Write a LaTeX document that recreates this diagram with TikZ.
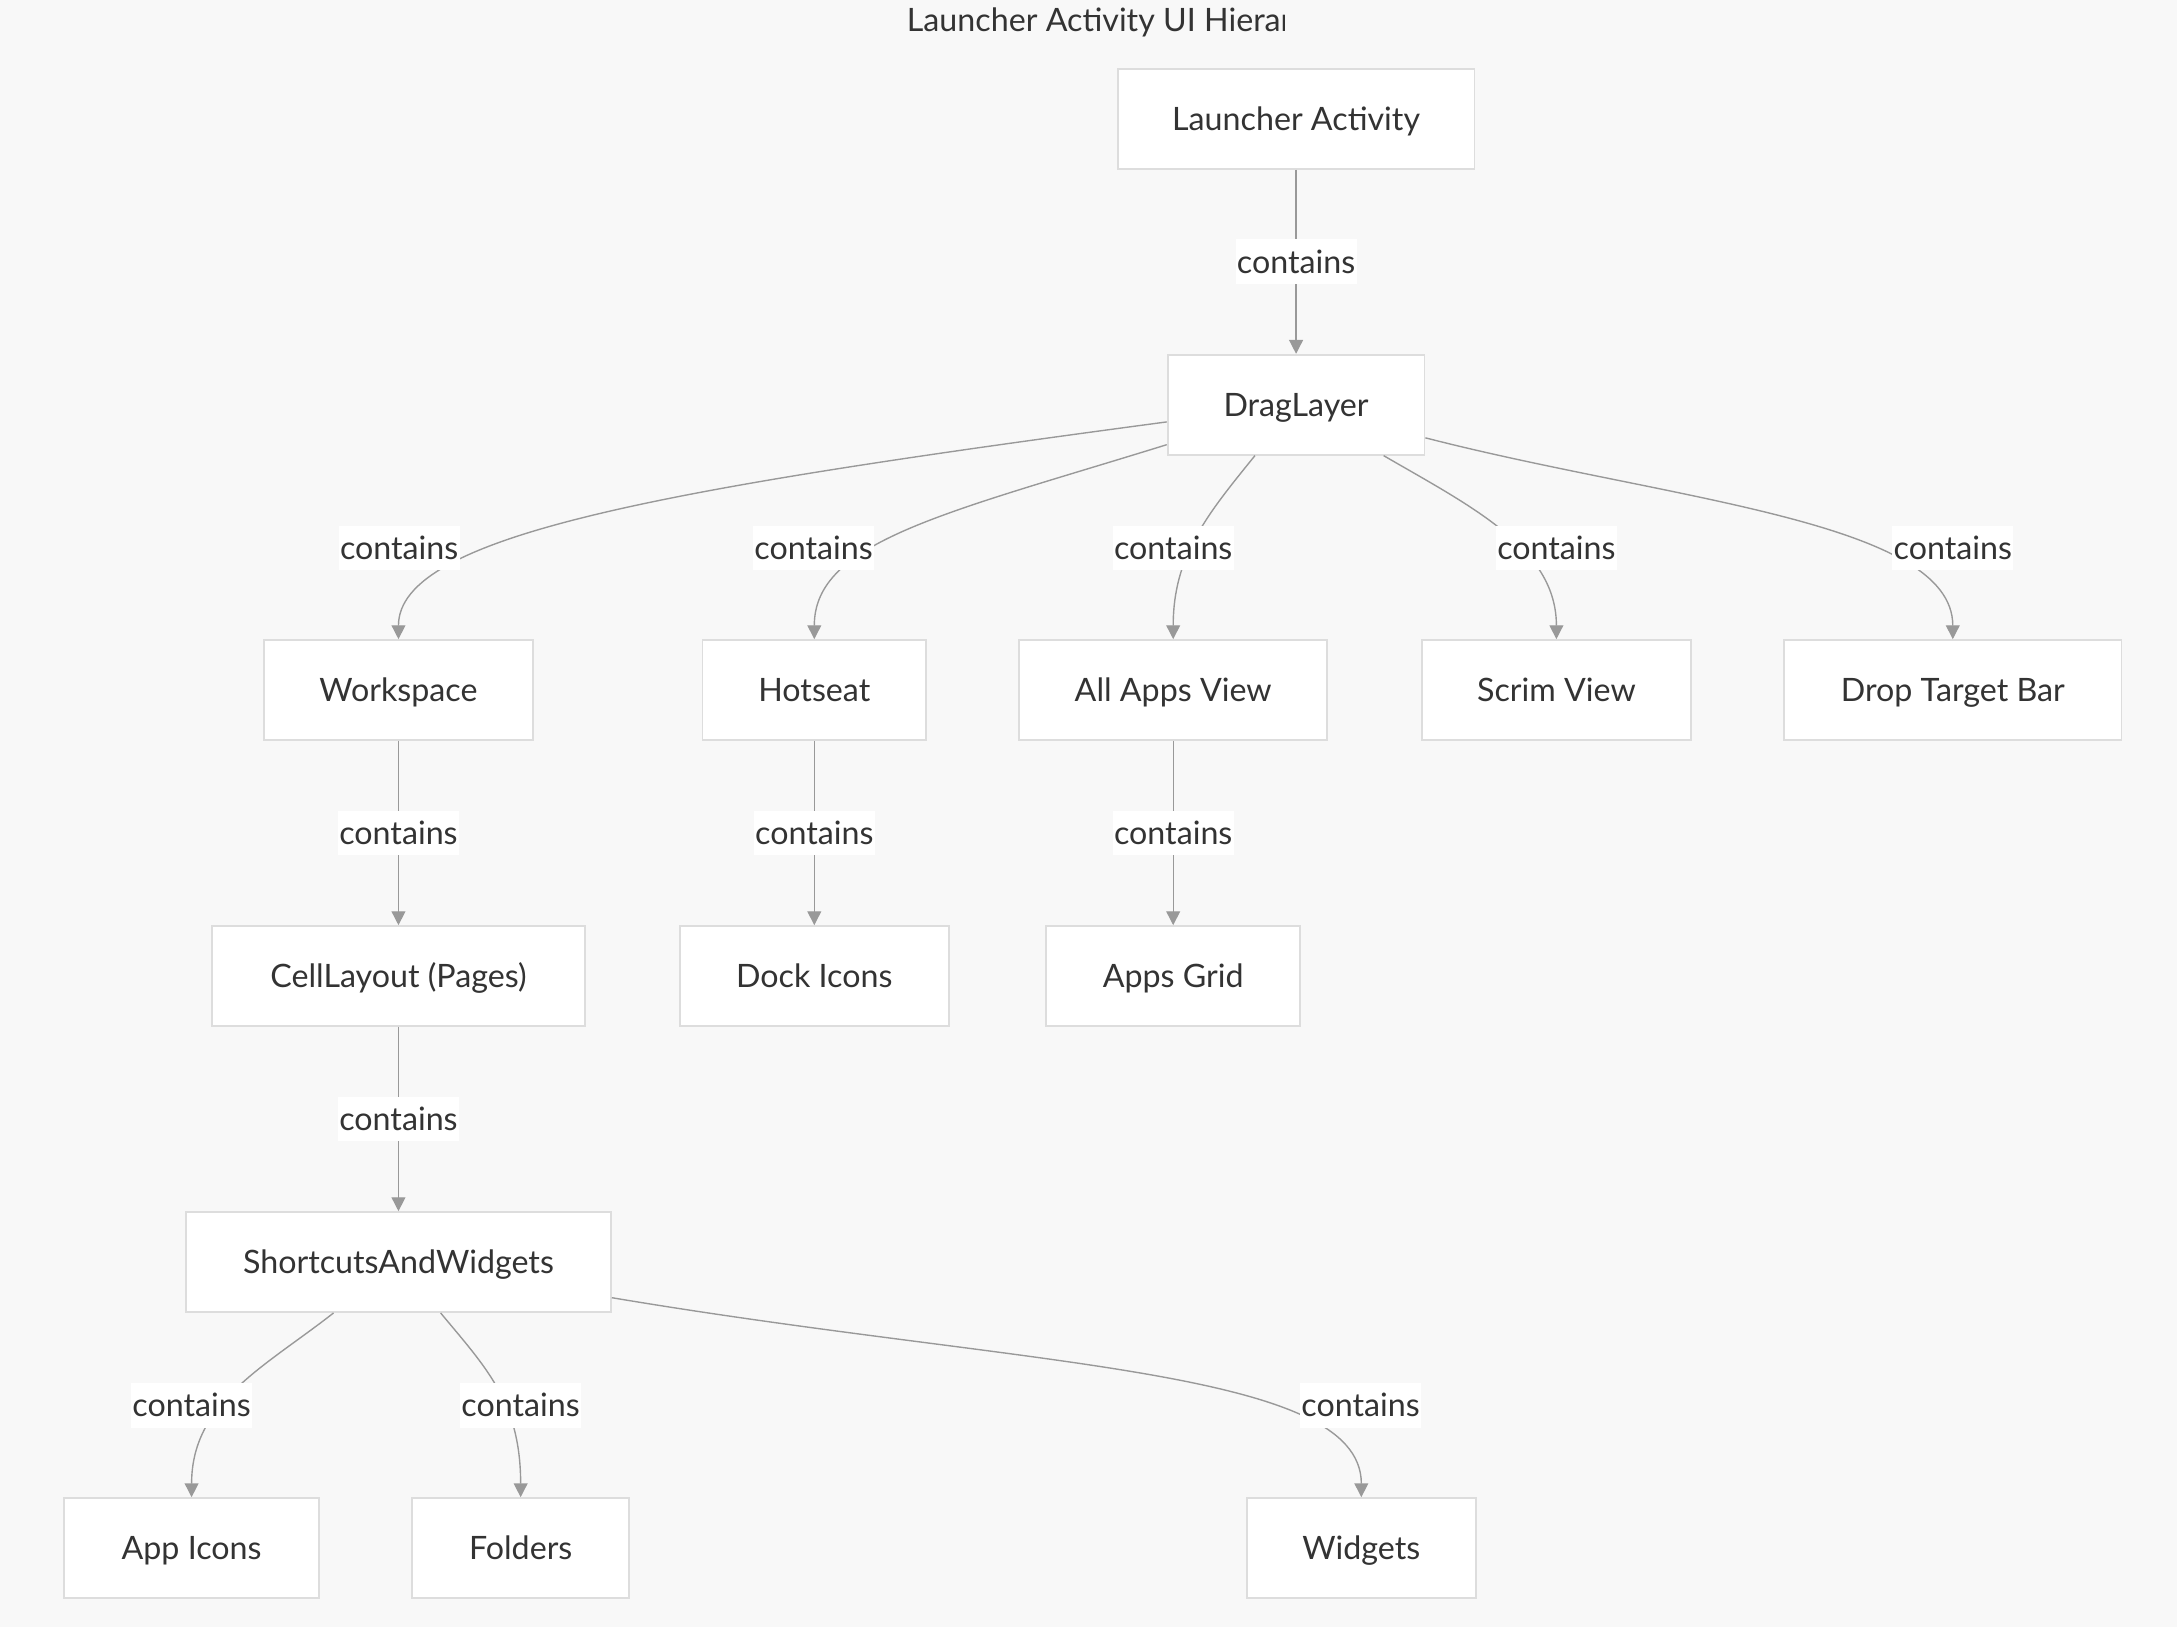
\documentclass[tikz,border=0pt]{standalone}
\usepackage{fontspec}
\setmainfont{Lato}
\usetikzlibrary{arrows.meta,positioning}
\definecolor{bgcol}{HTML}{F8F8F8}
\definecolor{boxline}{HTML}{DDDDDD}
\definecolor{edgecol}{HTML}{999999}
\definecolor{txtcol}{HTML}{333333}
\newcommand{\uifont}{\fontsize{23.2}{27}\selectfont}
\tikzset{
  ui/.style={draw=boxline, line width=1.3pt, fill=white, text=txtcol, font=\uifont,
    minimum width=#1, minimum height=72pt, inner sep=0pt, text height=17pt, text depth=0pt},
  lbl/.style={fill=white, text=txtcol, font=\uifont, inner xsep=1pt, inner ysep=7.75pt,
    text height=16.5pt, text depth=0pt},
  contains/.style={draw=edgecol, line width=1pt, -{Triangle[length=10pt,width=10pt]}}
}

\begin{document}
\begin{tikzpicture}[x=1pt, y=-1pt, node distance=206pt]
    \fill[bgcol] (0,0) rectangle (1568,1171.9);
    \begin{scope}
      \clip (640,0) rectangle (925,45);
      \node[anchor=base west, inner sep=0pt, text=txtcol, font=\uifont] (title) at (653,22.8) {Launcher Activity UI Hierarchy};
    \end{scope}

    % boxes
    \node[ui=257pt] (LA) at (933.5,85.5) {Launcher Activity};
    \node[ui=185pt] (DL) [below of = LA] {DragLayer};
    \node[ui=194pt] (WS) at (287,497) {Workspace};
    \node[ui=161pt] (HS) at (586.5,497) {Hotseat};
    \node[ui=222pt] (AV) at (845,497) {All Apps View};
    \node[ui=194pt] (SV) at (1121,497) {Scrim View};
    \node[ui=243pt] (DT) at (1406.5,497) {Drop Target Bar};
    \node[ui=269pt] (CL) [below of = WS] {CellLayout (Pages)};
    \node[ui=194pt] (DI) [below of = HS] {Dock Icons};
    \node[ui=183pt] (AG) [below of = AV] {Apps Grid};
    \node[ui=306pt] (SW) [below of = CL] {ShortcutsAndWidgets};
    \node[ui=184pt] (AI) at (138,1115) {App Icons};
    \node[ui=156pt] (FO) at (375,1115) {Folders};
    \node[ui=165pt] (WI) at (980.5,1115) {Widgets};

    % edges
    \draw[contains] (LA) -- node[lbl] (lbLA) {contains} (DL);
    \draw[contains] (DL) .. controls (480,352) and (287,385) .. (WS);
    \draw[contains] (DL) .. controls (680,370) and (586.5,390) .. (HS);
    \draw[contains] (DL) .. controls (870,370) and (845,400) .. (AV);
    \draw[contains] (DL) .. controls (1060,365) and (1121,395) .. (SV);
    \draw[contains] (DL) .. controls (1200,360) and (1406.5,375) .. (DT);
    \draw[contains] (WS) -- node[lbl] (lbWS) {contains} (CL);
    \draw[contains] (HS) -- node[lbl] (lbHS) {contains} (DI);
    \draw[contains] (AV) -- node[lbl] (lbAV) {contains} (AG);
    \draw[contains] (CL) -- node[lbl] (lbCL) {contains} (SW);
    \draw[contains] (SW) .. controls (190,985) and (138,1010) .. (AI);
    \draw[contains] (SW) .. controls (350,985) and (375,1010) .. (FO);
    \draw[contains] (SW) .. controls (740,985) and (980.5,985) .. (WI);

    % labels on the curved edges
    \node[lbl] (lbDLWS) at (287.5,394.5) {contains};
    \node[lbl] (lbDLHS) at (586,394.5) {contains};
    \node[lbl] (lbDLAV) at (845,394.5) {contains};
    \node[lbl] (lbDLSV) at (1121,394.5) {contains};
    \node[lbl] (lbDLDT) at (1406.5,394.5) {contains};
    \node[lbl] (lbSWAI) at (138,1012.3) {contains};
    \node[lbl] (lbSWFO) at (375,1012.3) {contains};
    \node[lbl] (lbSWWI) at (980,1012.3) {contains};
  \end{tikzpicture}
\end{document}
